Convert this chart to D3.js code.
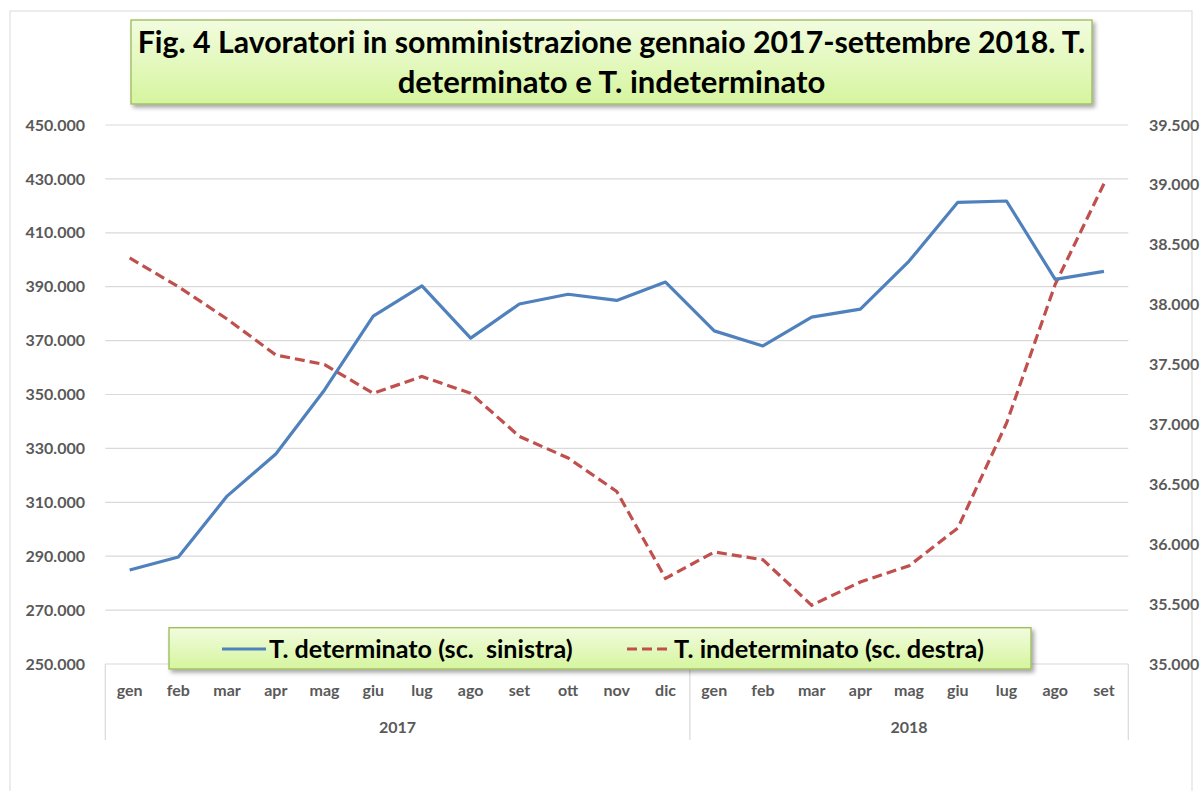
<!DOCTYPE html>
<meta charset="utf-8">

<style type="text/css">

    body { margin: 0; background: #fff; }

    /* gridlines and category separators */
    .grid line {
        stroke: #d9d9d9;
        stroke-width: 1.2;
    }

    .tick-label {
        font-family: Lato, "Open Sans", sans-serif;
        font-weight: bold;
        font-size: 16px;
        fill: #595959;
    }

    .line-det {
        fill: none;
        stroke: #4f81bd;
        stroke-width: 3.2;
        stroke-linejoin: round;
    }

    .line-ind {
        fill: none;
        stroke: #c0504d;
        stroke-width: 3.2;
        stroke-dasharray: 10, 5;
    }

    .box {
        stroke: #9bbb59;
        stroke-width: 1.3;
    }

    .box-text {
        font-family: Lato, "Open Sans", sans-serif;
        font-weight: bold;
        fill: #000;
        white-space: pre;
    }

</style>

<body>
</body>

<script src="https://d3js.org/d3.v7.min.js"></script>
<script>

    // ---- data ----
    var months = ["gen", "feb", "mar", "apr", "mag", "giu", "lug", "ago", "set", "ott", "nov", "dic",
                  "gen", "feb", "mar", "apr", "mag", "giu", "lug", "ago", "set"];

    var yearLabels = ["2017", "2018"];
    var yearMonthCount = [12, 9];

    // T. determinato, left scale
    var determinato = [284900, 289700, 312300, 327900, 351700, 379100, 390300, 370900, 383600, 387200, 384900, 391700,
                       373600, 368000, 378700, 381700, 399500, 421300, 421800, 392700, 395700];

    // T. indeterminato, right scale
    var indeterminato = [38390, 38150, 37880, 37580, 37500, 37260, 37400, 37260, 36900, 36720, 36440, 35715,
                         35935, 35870, 35490, 35685, 35820, 36135, 37010, 38170, 39010];

    var leftTicks = [250000, 270000, 290000, 310000, 330000, 350000, 370000, 390000, 410000, 430000, 450000];
    var rightTicks = [35000, 35500, 36000, 36500, 37000, 37500, 38000, 38500, 39000, 39500];

    var titleLines = ["Fig. 4 Lavoratori in somministrazione gennaio 2017-settembre 2018. T.",
                      "determinato e T. indeterminato"];
    var legendLabels = ["T. determinato (sc.  sinistra)", "T. indeterminato (sc. destra)"];

    // ---- layout ----
    var width = 1201, height = 791;
    var plot = {left: 105.3, right: 1128.3, top: 125, bottom: 664};

    var it = d3.formatLocale({decimal: ",", thousands: ".", grouping: [3], currency: ["€", ""]});
    var fmt = it.format(",d");

    var svg = d3.select("body").append("svg")
        .attr("width", width)
        .attr("height", height);

    // drop shadow used by title and legend boxes
    var defs = svg.append("defs");
    var shadow = defs.append("filter").attr("id", "shadow")
        .attr("x", "-5%").attr("y", "-20%").attr("width", "112%").attr("height", "150%");
    shadow.append("feDropShadow")
        .attr("dx", 2.5).attr("dy", 3).attr("stdDeviation", 2)
        .attr("flood-color", "#000").attr("flood-opacity", 0.35);

    var grad = defs.append("linearGradient").attr("id", "greenfill")
        .attr("x1", 0).attr("y1", 0).attr("x2", 0).attr("y2", 1);
    grad.append("stop").attr("offset", "0%").attr("stop-color", "#f2fcdf");
    grad.append("stop").attr("offset", "100%").attr("stop-color", "#d5f59e");

    // outer chart border
    svg.append("rect")
        .attr("x", 10).attr("y", 11)
        .attr("width", 1182).attr("height", 800)
        .attr("fill", "none")
        .attr("stroke", "#d9d9d9")
        .attr("stroke-width", 1);

    // ---- scales ----
    var x = d3.scaleBand()
        .domain(d3.range(months.length))
        .range([plot.left, plot.right])
        .padding(0);

    var yLeft = d3.scaleLinear()
        .domain([250000, 450000])
        .range([plot.bottom, plot.top]);

    var yRight = d3.scaleLinear()
        .domain([35000, 39500])
        .range([plot.bottom, plot.top]);

    var cx = function(i) { return x(i) + x.bandwidth() / 2; };

    // horizontal gridlines (left scale)
    svg.append("g").attr("class", "grid")
        .selectAll("line")
        .data(leftTicks)
        .enter().append("line")
        .attr("x1", plot.left).attr("x2", plot.right)
        .attr("y1", function(d) { return yLeft(d); })
        .attr("y2", function(d) { return yLeft(d); });

    // left axis labels
    svg.append("g")
        .selectAll("text")
        .data(leftTicks)
        .enter().append("text")
        .attr("class", "tick-label")
        .attr("x", 85)
        .attr("y", function(d) { return yLeft(d); })
        .attr("dy", "0.35em")
        .attr("text-anchor", "end")
        .text(function(d) { return fmt(d); });

    // right axis labels
    svg.append("g")
        .selectAll("text")
        .data(rightTicks)
        .enter().append("text")
        .attr("class", "tick-label")
        .attr("x", 1149)
        .attr("y", function(d) { return yRight(d); })
        .attr("dy", "0.35em")
        .attr("text-anchor", "start")
        .text(function(d) { return fmt(d); });

    // ---- category axis (months + years) ----
    var yearStarts = [0];
    yearMonthCount.forEach(function(n, i) { yearStarts.push(yearStarts[i] + n); });

    svg.append("g").attr("class", "grid")
        .selectAll("line")
        .data(yearStarts)
        .enter().append("line")
        .attr("x1", function(d) { return d < months.length ? x(d) : plot.right; })
        .attr("x2", function(d) { return d < months.length ? x(d) : plot.right; })
        .attr("y1", plot.bottom)
        .attr("y2", 740);

    svg.append("g")
        .selectAll("text")
        .data(months)
        .enter().append("text")
        .attr("class", "tick-label")
        .attr("x", function(d, i) { return cx(i); })
        .attr("y", 690)
        .attr("dy", "0.35em")
        .attr("text-anchor", "middle")
        .text(function(d) { return d; });

    svg.append("g")
        .selectAll("text")
        .data(yearLabels)
        .enter().append("text")
        .attr("class", "tick-label")
        .attr("x", function(d, i) {
            var a = x(yearStarts[i]);
            var b = yearStarts[i + 1] < months.length ? x(yearStarts[i + 1]) : plot.right;
            return (a + b) / 2;
        })
        .attr("y", 727)
        .attr("dy", "0.35em")
        .attr("text-anchor", "middle")
        .text(function(d) { return d; });

    // ---- lines ----
    var lineLeft = d3.line()
        .x(function(d, i) { return cx(i); })
        .y(function(d) { return yLeft(d); });

    var lineRight = d3.line()
        .x(function(d, i) { return cx(i); })
        .y(function(d) { return yRight(d); });

    svg.append("path")
        .datum(indeterminato)
        .attr("class", "line-ind")
        .attr("d", lineRight);

    svg.append("path")
        .datum(determinato)
        .attr("class", "line-det")
        .attr("d", lineLeft);

    // shrink/grow a text so it spans the wanted width
    function fitText(sel, w) {
        var len = sel.node().getComputedTextLength();
        var fs = parseFloat(sel.attr("font-size"));
        sel.attr("font-size", fs * w / len);
    }

    // ---- title box ----
    svg.append("rect")
        .attr("class", "box")
        .attr("x", 131).attr("y", 20)
        .attr("width", 961).attr("height", 84)
        .attr("fill", "url(#greenfill)")
        .attr("filter", "url(#shadow)");

    var titleWidths = [948, 428];
    titleLines.forEach(function(t, i) {
        var tx = svg.append("text")
            .attr("class", "box-text")
            .attr("x", 611.5)
            .attr("y", 53 + i * 40)
            .attr("text-anchor", "middle")
            .attr("font-size", 28)
            .text(t);
        fitText(tx, titleWidths[i]);
    });

    // ---- legend ----
    svg.append("rect")
        .attr("class", "box")
        .attr("x", 169).attr("y", 627.7)
        .attr("width", 862).attr("height", 41.3)
        .attr("fill", "url(#greenfill)")
        .attr("filter", "url(#shadow)");

    var legendItems = [
        {label: legendLabels[0], cls: "line-det", x0: 222, x1: 266, tx: 269, w: 304},
        {label: legendLabels[1], cls: "line-ind", x0: 627, x1: 667, tx: 674, w: 310}
    ];

    legendItems.forEach(function(d) {
        svg.append("line")
            .attr("class", d.cls)
            .attr("x1", d.x0).attr("x2", d.x1)
            .attr("y1", 649).attr("y2", 649);
        var lt = svg.append("text")
            .attr("class", "box-text")
            .attr("x", d.tx)
            .attr("y", 649)
            .attr("dy", "0.35em")
            .attr("font-size", 20)
            .text(d.label);
        fitText(lt, d.w);
    });

</script>
